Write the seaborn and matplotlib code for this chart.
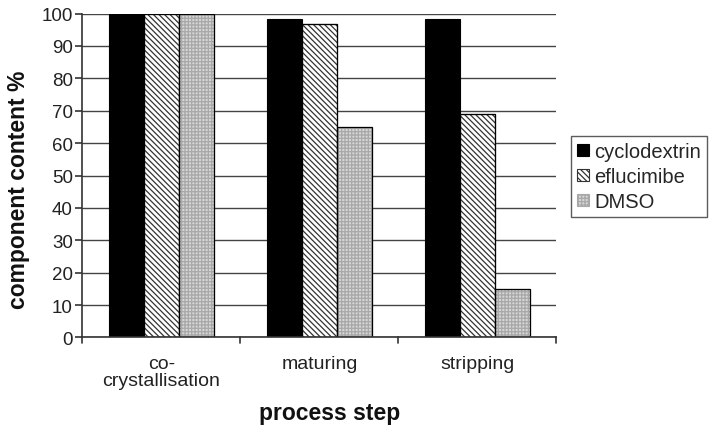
import matplotlib
matplotlib.use("Agg")
import matplotlib.pyplot as plt
from matplotlib.patches import Rectangle
import seaborn as sns
import pandas as pd

steps = ["co-\ncrystallisation", "maturing", "stripping"]
components = ["cyclodextrin", "eflucimibe", "DMSO"]
cyclodextrin = [100, 98.3, 98.2]
eflucimibe = [100, 96.7, 69]
dmso = [100, 65, 15]
yticks = list(range(0, 101, 10))

rows = []
for comp, vals in zip(components, [cyclodextrin, eflucimibe, dmso]):
    for s, v in zip(steps, vals):
        rows.append({"step": s, "component": comp, "value": v})
df = pd.DataFrame(rows)

sns.set_style("white")
plt.rcParams['font.family'] = ['Liberation Sans', 'DejaVu Sans']
plt.rcParams['hatch.linewidth'] = 0.9

fig = plt.figure(figsize=(7.13, 4.27), dpi=100)
ax = fig.add_axes([0.1157, 0.2073, 0.6648, 0.7587])

colors = ["black", "white", "#d6d6d6"]
sns.barplot(data=df, x="step", y="value", hue="component", order=steps,
            hue_order=components, palette=colors, width=0.665,
            edgecolor="black", linewidth=0.8, saturation=1, ax=ax, legend=True)

hatches = [None, "\\\\\\\\\\\\", "+++++"]
hatch_edges = ["black", "#333333", "#a8a8a8"]
for cont, h, ec in zip(ax.containers, hatches, hatch_edges):
    for p in cont:
        if h is not None:
            p.set_hatch(h)
            p.set_edgecolor(ec)
            # black outline on top, same geometry as the bar
            ax.add_patch(Rectangle(p.get_xy(), p.get_width(), p.get_height(),
                                   fill=False, edgecolor="black", linewidth=0.9,
                                   zorder=p.get_zorder() + 0.1))

ax.set_ylim(0, 100)
ax.set_xlim(-0.5, 2.5)
ax.set_yticks(yticks)
ax.set_yticklabels([str(t) for t in yticks], fontsize=13.5, color="#222222")
ax.set_xticks([])
for xb in [-0.5, 0.5, 1.5, 2.5]:
    ax.plot([xb, xb], [0, -1.8], color="#333333", lw=1.2, clip_on=False, zorder=5)
for i, s in enumerate(steps):
    ax.text(i, -5.5, s, ha="center", va="top", fontsize=14, color="#222222",
            linespacing=1.0)

ax.yaxis.grid(True, color="#444444", lw=1.0)
ax.set_axisbelow(True)
ax.tick_params(axis="y", direction="out", length=5, width=1.2, color="#333333", left=True, pad=2)
for side in ["top", "right"]:
    ax.spines[side].set_visible(False)
ax.spines["left"].set_color("#333333")
ax.spines["left"].set_linewidth(1.2)
ax.spines["bottom"].set_color("#333333")
ax.spines["bottom"].set_linewidth(1.2)

ax.set_xlabel("")
ax.set_ylabel("")
fig.text(19 / 713, 1 - 190 / 427, "component content %", rotation=90, ha="center",
         va="center", fontsize=16.5, fontweight="bold", color="#111111")
fig.text(330 / 713, 1 - 414 / 427, "process step", ha="center", va="center",
         fontsize=16.5, fontweight="bold", color="#111111")

leg = ax.legend(loc="upper left", bbox_to_anchor=(1.031, 0.622), fontsize=14.5,
                frameon=True, fancybox=False, edgecolor="#333333",
                handlelength=0.6, handleheight=0.6, handletextpad=0.25,
                borderpad=0.3, labelspacing=0.3, borderaxespad=0)
leg.get_frame().set_linewidth(1.0)
for hnd, h, ec in zip(leg.legend_handles, hatches, hatch_edges):
    hnd.set_edgecolor(ec if h else "black")
    if h:
        hnd.set_hatch(h)

fig.savefig("out.png", dpi=100)
